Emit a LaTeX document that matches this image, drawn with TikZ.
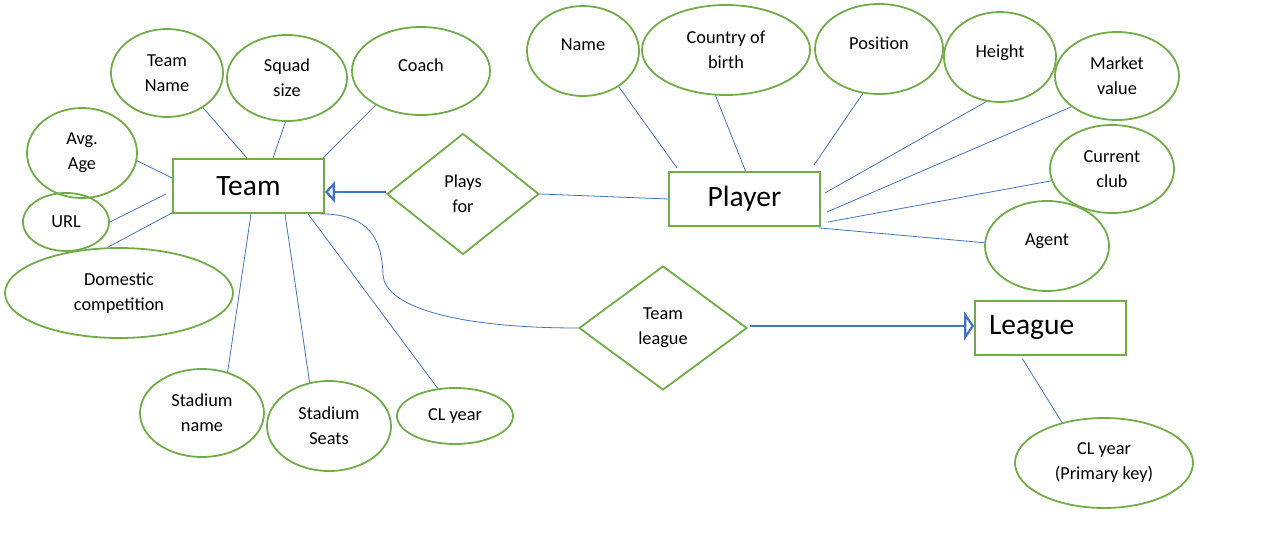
\documentclass[tikz,border=0pt]{standalone}
\usepackage{fontspec}
\setmainfont{Carlito}
\usetikzlibrary{shapes.geometric,arrows.meta}
\definecolor{ergreen}{HTML}{70AD47}
\definecolor{erblue}{HTML}{4472C4}

\begin{document}
\begin{tikzpicture}[x=1pt, y=-1pt,
    attr/.style 2 args={draw=ergreen, line width=1.8pt, ellipse, inner sep=0pt,
        minimum width=#1, minimum height=#2, align=center,
        font=\fontsize{18.3}{25}\selectfont},
    single/.style={text depth=12pt},
    entity/.style={draw=ergreen, line width=1.8pt, inner sep=0pt,
        minimum width=151pt, minimum height=54pt,
        font=\fontsize{29.5}{32}\selectfont},
    rel/.style 2 args={draw=ergreen, line width=1.8pt, diamond, inner sep=0pt,
        minimum width=#1, minimum height=#2, align=center,
        font=\fontsize{18.3}{25}\selectfont},
    link/.style={draw=erblue, line width=0.8pt},
    isa/.style={draw=erblue, line width=2.2pt,
        -{Triangle[open, length=10pt, width=#1]}}]
\useasboundingbox (0,0) rectangle (1272,557);
\path
    (248.5,186) node[entity] (team) {Team}
    (744.5,199) node[entity] (player) {Player}
    (1050.5,328) node[entity, text width=123pt, inner xsep=14pt, align=left] (league) {League}
    (463,194) node[rel={152pt}{121pt}] (plays) {Plays\\for}
    (663,328) node[rel={168pt}{124pt}] (tleague) {Team\\league}
    (167,73) node[attr={112pt}{88pt}] (tname) {Team\\Name}
    (287,78) node[attr={120pt}{86pt}] (squad) {Squad\\size}
    (421,71) node[attr={138pt}{88pt}, single] (coach) {Coach}
    (82,153) node[attr={110pt}{90pt}] (avg) {Avg.\\Age}
    (66,222) node[attr={86pt}{58pt}] (url) {URL}
    (119,293) node[attr={228pt}{90pt}] (dom) {Domestic\\competition}
    (202,413) node[attr={124pt}{88pt}] (sname) {Stadium\\name}
    (329,426) node[attr={124pt}{90pt}] (sseats) {Stadium\\Seats}
    (455,416) node[attr={116pt}{56pt}] (clyear) {CL year}
    (583,51) node[attr={112pt}{90pt}, single] (name) {Name}
    (726,50) node[attr={168pt}{90pt}] (country) {Country of\\birth}
    (879,49) node[attr={128pt}{90pt}, single] (pos) {Position}
    (1000,57) node[attr={112pt}{90pt}, single] (height) {Height}
    (1117,76) node[attr={124pt}{88pt}] (mv) {Market\\value}
    (1112,169) node[attr={124pt}{88pt}] (cc) {Current\\club}
    (1047,246) node[attr={124pt}{90pt}, single] (agent) {Agent}
    (1104,463) node[attr={178pt}{90pt}] (pk) {CL year\\(Primary key)}
    ;
\coordinate (bend) at (383,275);
\draw[link]
    (tname.-44) -- ([xshift=-1.5pt]team.north)
    (squad.-92) -- ([xshift=24.5pt]team.north)
    (coach.-143) -- ([xshift=-2pt]team.north east)
    (avg.-8) -- ([yshift=8pt]team.west)
    (url.east) -- ([xshift=-6pt,yshift=-8pt]team.west)
    (dom.104) -- ([yshift=1pt]team.south west)
    ([xshift=2.5pt]team.south) -- (sname.58)
    ([xshift=36.5pt]team.south) -- (sseats.114)
    ([xshift=59.5pt]team.south) -- (clyear.122)
    (name.-45) -- ([xshift=9pt,yshift=3pt]player.north west)
    (country.-103) -- ([xshift=1pt]player.north)
    (pos.-110) -- ([xshift=-7pt,yshift=6pt]player.north east)
    (height.-107) -- ([xshift=4pt,yshift=6pt]player.east)
    (mv.-146) -- ([xshift=6pt,yshift=-13pt]player.east)
    (cc.-169) -- ([xshift=7pt,yshift=-23pt]player.east)
    (agent.177) -- ([xshift=-2pt,yshift=-1pt]player.south east)
    (plays.east) -- (player.west)
    ([xshift=-28pt,yshift=-3pt]league.south) -- (pk.136);
\draw[link] ([xshift=-4pt]team.south east) .. controls (370,214) and (382,240) .. (bend)
    .. controls (385,305) and (450,328) .. (tleague.west);
\draw[isa=21pt] ([yshift=2pt]plays.west) -- ([yshift=-6pt]team.east);
\draw[isa=29pt] ([xshift=2pt,yshift=2pt]tleague.east) -- ([yshift=2pt]league.west);
\end{tikzpicture}
\end{document}
